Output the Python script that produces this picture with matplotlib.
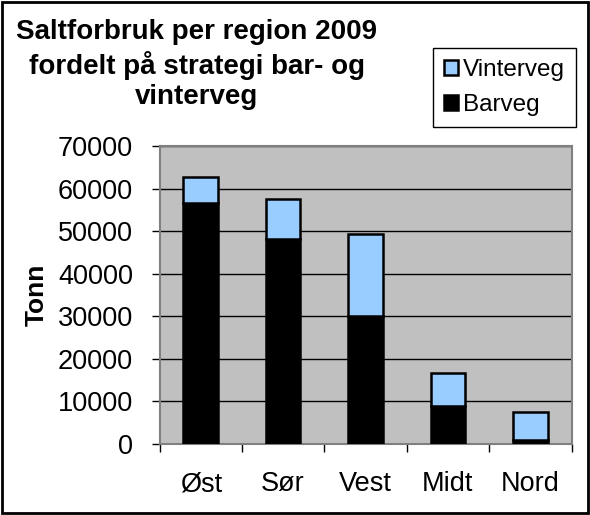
import matplotlib
matplotlib.use("Agg")
import matplotlib.pyplot as plt
import numpy as np
from matplotlib.patches import Rectangle

regions = ["Øst", "Sør", "Vest", "Midt", "Nord"]
barveg = [56500, 48200, 30000, 9000, 1000]
vinterveg = [6200, 9400, 19400, 7750, 6400]
yticks = [0, 10000, 20000, 30000, 40000, 50000, 60000, 70000]

plt.rcParams['font.family'] = ['Liberation Sans', 'DejaVu Sans']

W, H = 590, 515
fig = plt.figure(figsize=(W/100, H/100), dpi=100)
ax = fig.add_axes([159.5/W, 1-444/H, (571.5-159.5)/W, (444-146)/H])
ax.set_facecolor('#C0C0C0')

x = np.arange(len(regions))
ax.bar(x, barveg, width=0.42, color='black', edgecolor='black', linewidth=1.8, label='Barveg', zorder=3)
ax.bar(x, vinterveg, bottom=barveg, width=0.42, color='#99CCFF', edgecolor='black', linewidth=1.8, label='Vinterveg', zorder=3)

ax.set_xlim(-0.5, len(regions)-0.5)
ax.set_ylim(0, 70000)
ax.set_yticks(yticks)
ax.set_yticklabels([str(v) for v in yticks])
ax.yaxis.grid(True, color='black', linewidth=1.0, zorder=1)
ax.set_axisbelow(True)

ax.set_xticks(x)
ax.set_xticklabels(regions)
ax.set_xticks(np.arange(len(regions)+1)-0.5, minor=True)
ax.tick_params(axis='x', which='major', length=0, pad=19.5, labelsize=19.5)
ax.tick_params(axis='x', which='minor', length=6, color='black', width=1)
ax.tick_params(axis='y', length=6, color='black', width=1, pad=13, labelsize=19.5)
for s in ax.spines.values():
    s.set_color('#808080')
    s.set_linewidth(1.5)

fig.text(37/W, 1-295/H, 'Tonn', rotation=90, fontsize=19, fontweight='bold', ha='center', va='center')
fig.text(197/W, 1-19/H, 'Saltforbruk per region 2009\nfordelt på strategi bar- og\nvinterveg',
         fontsize=20, fontweight='bold', ha='center', va='top', linespacing=1.24)

h, l = ax.get_legend_handles_labels()
leg = fig.legend(h[::-1], l[::-1], loc='upper left', bbox_to_anchor=(433/W, 1-48/H),
                 borderaxespad=0, fontsize=17.5, fancybox=False, edgecolor='black',
                 handlelength=0.58, handleheight=0.58, handletextpad=0.2,
                 borderpad=0.45, labelspacing=0.55, framealpha=1)
leg.get_frame().set_linewidth(1.0)

fig.patches.append(Rectangle((2/W, 2/H), 1-4/W, 1-4/H, transform=fig.transFigure,
                             fill=False, edgecolor='black', linewidth=2))
fig.savefig('out.png', dpi=100)
